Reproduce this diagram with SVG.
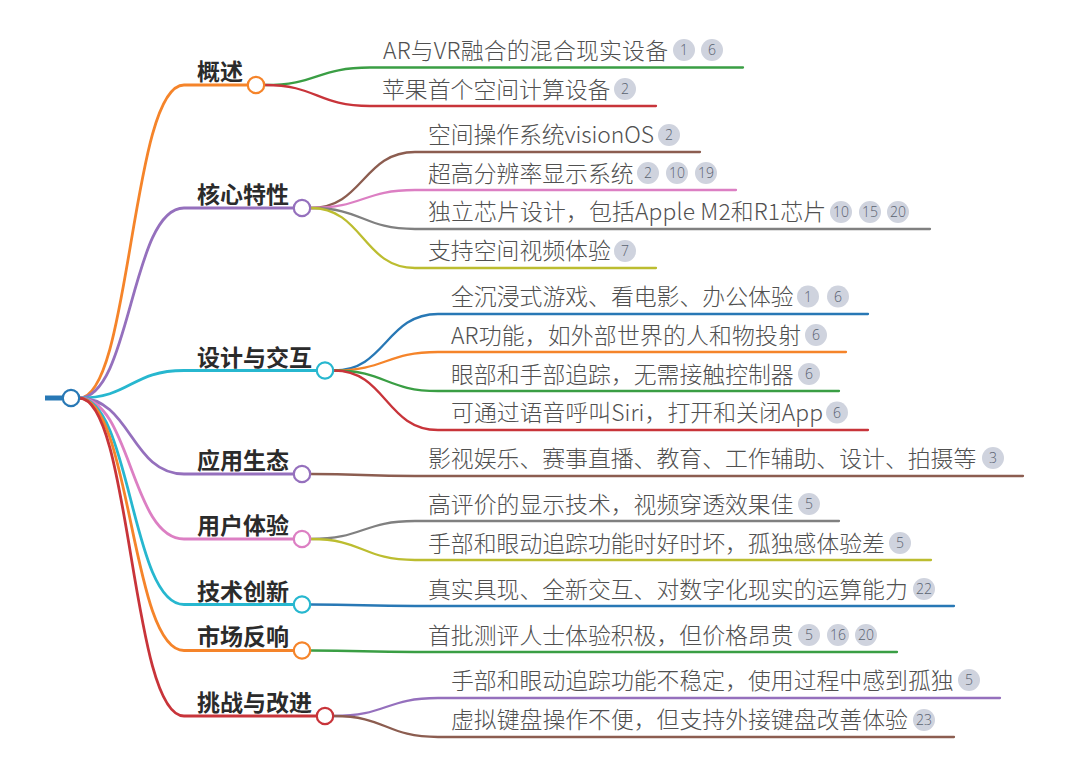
<svg xmlns="http://www.w3.org/2000/svg" width="1080" height="760" viewBox="0 0 1080 760">
<style>
.l{fill:none;stroke-linecap:round}
.b{stroke-width:2.8}
.c{stroke-width:2.3}
circle.n{fill:#fff;stroke-width:2.2}
text{font-family:"Noto Sans CJK SC","Noto Sans",sans-serif}
.h{font-size:23px;font-weight:700;fill:#2b2b2b}
.t{font-size:22.85px;font-weight:300;fill:#505050}
.bg{fill:#cfd3de}
.bt{font-size:14px;fill:#5a6270;text-anchor:middle;font-family:"Open Sans","Noto Sans",sans-serif;font-weight:300}
</style>
<rect width="1080" height="760" fill="#fff"/>
<g id="connectors">
<path class="l b" stroke="#f5842a" d="M79 398C131 398 131 85 184 85H247"/>
<path class="l b" stroke="#9570bd" d="M79 398C131 398 131 208 184 208H293"/>
<path class="l b" stroke="#27b7cf" d="M79 398C131 398 131 370.500 184 370.500H316"/>
<path class="l b" stroke="#9570bd" d="M79 398C131 398 131 474 184 474H293"/>
<path class="l b" stroke="#dc7fc3" d="M79 398C131 398 131 539 184 539H293"/>
<path class="l b" stroke="#27b7cf" d="M79 398C131 398 131 604.500 184 604.500H293"/>
<path class="l b" stroke="#f5842a" d="M79 398C131 398 131 650.500 184 650.500H293"/>
<path class="l b" stroke="#c8343a" d="M79 398C131 398 131 716 184 716H316"/>
<path d="M45 398H62" stroke="#2878b5" stroke-width="5" fill="none"/>
<path class="l c" stroke="#3a9e44" d="M265 85C317 85 317 67.500 370 67.500H743"/>
<path class="l c" stroke="#c8343a" d="M265 85C317 85 317 106 370 106H656"/>
<path class="l c" stroke="#8c5d50" d="M311 208C363 208 363 152 415 152H700"/>
<path class="l c" stroke="#dc7fc3" d="M311 208C363 208 363 190 415 190H736"/>
<path class="l c" stroke="#808080" d="M311 208C363 208 363 229 415 229H930"/>
<path class="l c" stroke="#bcbd30" d="M311 208C363 208 363 268 415 268H656"/>
<path class="l c" stroke="#2878b5" d="M334 370.500C386 370.500 386 314 438 314H868"/>
<path class="l c" stroke="#f5842a" d="M334 370.500C386 370.500 386 352 438 352H846"/>
<path class="l c" stroke="#3a9e44" d="M334 370.500C386 370.500 386 391 438 391H839"/>
<path class="l c" stroke="#c8343a" d="M334 370.500C386 370.500 386 430 438 430H868"/>
<path class="l c" stroke="#8c5d50" d="M311 474C363 474 363 476 415 476H1023"/>
<path class="l c" stroke="#808080" d="M311 539C363 539 363 521 415 521H839"/>
<path class="l c" stroke="#bcbd30" d="M311 539C363 539 363 560 415 560H931"/>
<path class="l c" stroke="#2878b5" d="M311 604.500C363 604.500 363 606 415 606H954"/>
<path class="l c" stroke="#3a9e44" d="M311 650.500C363 650.500 363 652 415 652H897"/>
<path class="l c" stroke="#9570bd" d="M334 716C386 716 386 698 438 698H1000"/>
<path class="l c" stroke="#8c5d50" d="M334 716C386 716 386 737 438 737H954"/>
</g>
<g id="root"><circle class="n" cx="71" cy="398" r="8.200" stroke="#2878b5"/></g>
<g id="n1"><text class="h" x="197" y="80">概述</text><circle class="n" cx="256" cy="85" r="8.200" stroke="#f5842a"/></g>
<g id="n2"><text class="h" x="197" y="203">核心特性</text><circle class="n" cx="302" cy="208" r="8.200" stroke="#9570bd"/></g>
<g id="n3"><text class="h" x="197" y="366">设计与交互</text><circle class="n" cx="325" cy="370.500" r="8.200" stroke="#27b7cf"/></g>
<g id="n4"><text class="h" x="197" y="469">应用生态</text><circle class="n" cx="302" cy="474" r="8.200" stroke="#9570bd"/></g>
<g id="n5"><text class="h" x="197" y="534">用户体验</text><circle class="n" cx="302" cy="539" r="8.200" stroke="#dc7fc3"/></g>
<g id="n6"><text class="h" x="197" y="600">技术创新</text><circle class="n" cx="302" cy="604.500" r="8.200" stroke="#27b7cf"/></g>
<g id="n7"><text class="h" x="197" y="645">市场反响</text><circle class="n" cx="302" cy="650.500" r="8.200" stroke="#f5842a"/></g>
<g id="n8"><text class="h" x="197" y="711">挑战与改进</text><circle class="n" cx="325" cy="716" r="8.200" stroke="#c8343a"/></g>
<g id="c1"><text class="t" x="383" y="59" textLength="285">AR与VR融合的混合现实设备</text><circle class="bg" cx="684" cy="50" r="11"/><text class="bt" x="684" y="55">1</text><circle class="bg" cx="712" cy="50" r="11"/><text class="bt" x="712" y="55">6</text></g>
<g id="c2"><text class="t" x="382" y="98">苹果首个空间计算设备</text><circle class="bg" cx="625" cy="89" r="11"/><text class="bt" x="625" y="94">2</text></g>
<g id="c3"><text class="t" x="428" y="143" textLength="226">空间操作系统visionOS</text><circle class="bg" cx="669" cy="135" r="11"/><text class="bt" x="669" y="140">2</text></g>
<g id="c4"><text class="t" x="428" y="182">超高分辨率显示系统</text><circle class="bg" cx="648" cy="173" r="11"/><text class="bt" x="648" y="178">2</text><circle class="bg" cx="677" cy="173" r="11"/><text class="bt" x="677" y="178">10</text><circle class="bg" cx="706" cy="173" r="11"/><text class="bt" x="706" y="178">19</text></g>
<g id="c5"><text class="t" x="428" y="220" textLength="398">独立芯片设计，包括Apple M2和R1芯片</text><circle class="bg" cx="841" cy="212" r="11"/><text class="bt" x="841" y="217">10</text><circle class="bg" cx="870" cy="212" r="11"/><text class="bt" x="870" y="217">15</text><circle class="bg" cx="898" cy="212" r="11"/><text class="bt" x="898" y="217">20</text></g>
<g id="c6"><text class="t" x="428" y="259">支持空间视频体验</text><circle class="bg" cx="625" cy="251" r="11"/><text class="bt" x="625" y="256">7</text></g>
<g id="c7"><text class="t" x="451" y="305">全沉浸式游戏、看电影、办公体验</text><circle class="bg" cx="808" cy="296.500" r="11"/><text class="bt" x="808" y="301.500">1</text><circle class="bg" cx="838" cy="296.500" r="11"/><text class="bt" x="838" y="301.500">6</text></g>
<g id="c8"><text class="t" x="451" y="344" textLength="350">AR功能，如外部世界的人和物投射</text><circle class="bg" cx="816" cy="335" r="11"/><text class="bt" x="816" y="340">6</text></g>
<g id="c9"><text class="t" x="451" y="383">眼部和手部追踪，无需接触控制器</text><circle class="bg" cx="809" cy="374" r="11"/><text class="bt" x="809" y="379">6</text></g>
<g id="c10"><text class="t" x="451" y="421" textLength="372">可通过语音呼叫Siri，打开和关闭App</text><circle class="bg" cx="837" cy="412.500" r="11"/><text class="bt" x="837" y="417.500">6</text></g>
<g id="c11"><text class="t" x="428" y="467">影视娱乐、赛事直播、教育、工作辅助、设计、拍摄等</text><circle class="bg" cx="993" cy="458" r="11"/><text class="bt" x="993" y="463">3</text></g>
<g id="c12"><text class="t" x="428" y="513">高评价的显示技术，视频穿透效果佳</text><circle class="bg" cx="809" cy="504" r="11"/><text class="bt" x="809" y="509">5</text></g>
<g id="c13"><text class="t" x="428" y="552">手部和眼动追踪功能时好时坏，孤独感体验差</text><circle class="bg" cx="900" cy="543" r="11"/><text class="bt" x="900" y="548">5</text></g>
<g id="c14"><text class="t" x="428" y="598">真实具现、全新交互、对数字化现实的运算能力</text><circle class="bg" cx="924" cy="589" r="11"/><text class="bt" x="924" y="594">22</text></g>
<g id="c15"><text class="t" x="428" y="644">首批测评人士体验积极，但价格昂贵</text><circle class="bg" cx="809" cy="635" r="11"/><text class="bt" x="809" y="640">5</text><circle class="bg" cx="838" cy="635" r="11"/><text class="bt" x="838" y="640">16</text><circle class="bg" cx="866" cy="635" r="11"/><text class="bt" x="866" y="640">20</text></g>
<g id="c16"><text class="t" x="451" y="689">手部和眼动追踪功能不稳定，使用过程中感到孤独</text><circle class="bg" cx="969" cy="680" r="11"/><text class="bt" x="969" y="685">5</text></g>
<g id="c17"><text class="t" x="451" y="728">虚拟键盘操作不便，但支持外接键盘改善体验</text><circle class="bg" cx="924" cy="720" r="11"/><text class="bt" x="924" y="725">23</text></g>
</svg>
